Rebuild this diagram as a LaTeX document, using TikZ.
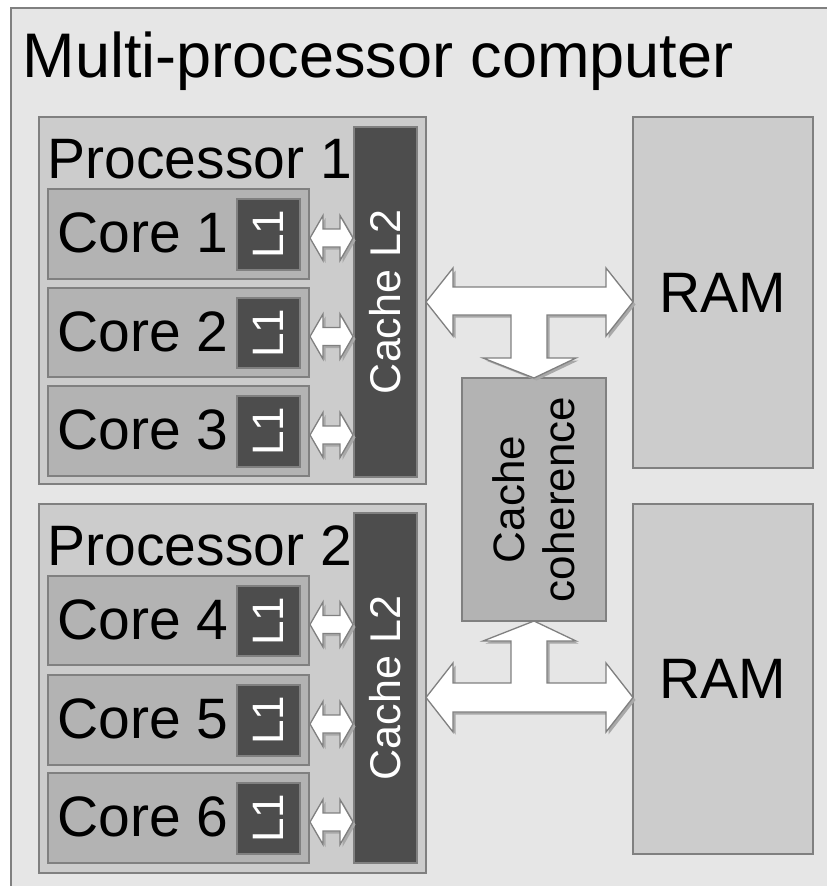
\documentclass[tikz,border=0pt]{standalone}
\usepackage{fontspec}
\setmainfont{Liberation Sans}
\usetikzlibrary{fit,calc,shadows}
\definecolor{outerfill}{HTML}{E6E6E6}
\definecolor{procfill}{HTML}{CCCCCC}
\definecolor{corefill}{HTML}{B3B3B3}
\definecolor{darkfill}{HTML}{4D4D4D}
\definecolor{edgegray}{HTML}{808080}
\definecolor{shadowgray}{HTML}{A8A8A8}
\newcommand\fsz[2]{\fontsize{#1}{#2}\selectfont}
\begin{document}
\begin{tikzpicture}[x=1pt,y=-1pt,
  frame/.style={draw=edgegray, line width=1.3pt, inner sep=0pt, outer sep=0pt},
  outerbox/.style={frame, fill=outerfill},
  procbox/.style={frame, fill=procfill},
  corebox/.style={frame, fill=corefill},
  darkbox/.style={frame, fill=darkfill},
  bigtext/.style={inner sep=0pt, font=\fsz{57}{60}, text=black},
  vtext/.style={inner sep=0pt, rotate=90},
  blockarrow/.style={draw=edgegray, line width=1.3pt, fill=white, line join=miter,
    drop shadow={shadow xshift=2.5pt, shadow yshift=-2.5pt, fill=shadowgray, opacity=1}},
]
\useasboundingbox (0,0) rectangle (827,886);
\clip (0,0) rectangle (827,886);
\fill[white] (0,0) rectangle (827,886);

% outer computer box
\node[outerbox, fit={(11,8) (860,910)}] (outer) {};
\node[inner sep=0pt, anchor=base west, font=\fsz{63}{70}] (title) at (22.5,77) {Multi-processor computer};

% processors
\node[procbox, fit={(39,117) (426,484)}] (p1) {};
\node[procbox, fit={(39,504) (426,873)}] (p2) {};
\node[bigtext, anchor=base west] (p1lbl) at (47.5,178) {Processor 1};
\node[bigtext, anchor=base west] (p2lbl) at (47.5,565) {Processor 2};

% L2 caches
\node[darkbox, fit={(354,127) (417,477)}] (l2a) {};
\node[darkbox, fit={(354,513) (417,863)}] (l2b) {};
\node[vtext, text=white, font=\fsz{43}{50}] (l2alabel) at (l2a) {Cache L2};
\node[vtext, text=white, font=\fsz{43}{50}] (l2blabel) at (l2b) {Cache L2};

% RAM
\node[procbox, fit={(633,117) (813,468)}] (ram1) {};
\node[procbox, fit={(633,504) (813,854)}] (ram2) {};
\node[bigtext, anchor=base] (ram1lbl) at (723,312) {RAM};
\node[bigtext, anchor=base] (ram2lbl) at (723,698) {RAM};

% cache coherence
\node[corebox, fit={(462,378) (606,621)}] (coh) {};
\node[vtext, align=center, font=\fsz{44}{50}] (cohlbl) at (coh) {Cache\\coherence};

% cores
\foreach \n/\t/\b/\c in {1/189/279/l2a, 2/288/377/l2a, 3/386/476/l2a, 4/576/665/l2b, 5/675/765/l2b, 6/773/863/l2b} {
  \node[corebox, fit={(48,\t) (309,\b)}] (core\n) {};
  \node[darkbox, fit={(237,\t+10) (300,\b-9)}] (lone\n) {};
  \node[bigtext, anchor=base west] (corelbl\n) at (57,\t+63) {Core \n};
  \node[vtext, text=white, font=\fsz{44}{50}] (lonelbl\n) at (lone\n) {L1};
  \coordinate (tip\n) at ($(core\n.east)+(1,4)$);
  \draw[blockarrow] (tip\n) -- ++(13,-22.5) -- ++(0,13.5) -- ++(17,0) -- ++(0,-13.5)
     -- ++(13,22.5) -- ++(-13,22.5) -- ++(0,-13.5) -- ++(-17,0) -- ++(0,13.5) -- cycle;
}

% T arrow: processor 1 <-> RAM 1, down to coherence
\draw[blockarrow] (p1.east |- 0,302) -- (453,268) -- (453,287) -- (606,287) -- (606,268)
  -- (ram1.west |- 0,302) -- (606,336) -- (606,315) -- (547,315) -- (547,358) -- (576,358)
  -- (coh.north) -- (483,358) -- (511,358) -- (511,315) -- (453,315) -- (453,336) -- cycle;

% T arrow: processor 2 <-> RAM 2, up to coherence
\draw[blockarrow] (p2.east |- 0,697.5) -- (453,663) -- (453,683) -- (511,683) -- (511,641)
  -- (483,641) -- (coh.south) -- (576,641) -- (547,641) -- (547,683) -- (606,683)
  -- (606,663) -- (ram2.west |- 0,697.5) -- (606,732) -- (606,712) -- (453,712) -- (453,732) -- cycle;

\end{tikzpicture}
\end{document}
